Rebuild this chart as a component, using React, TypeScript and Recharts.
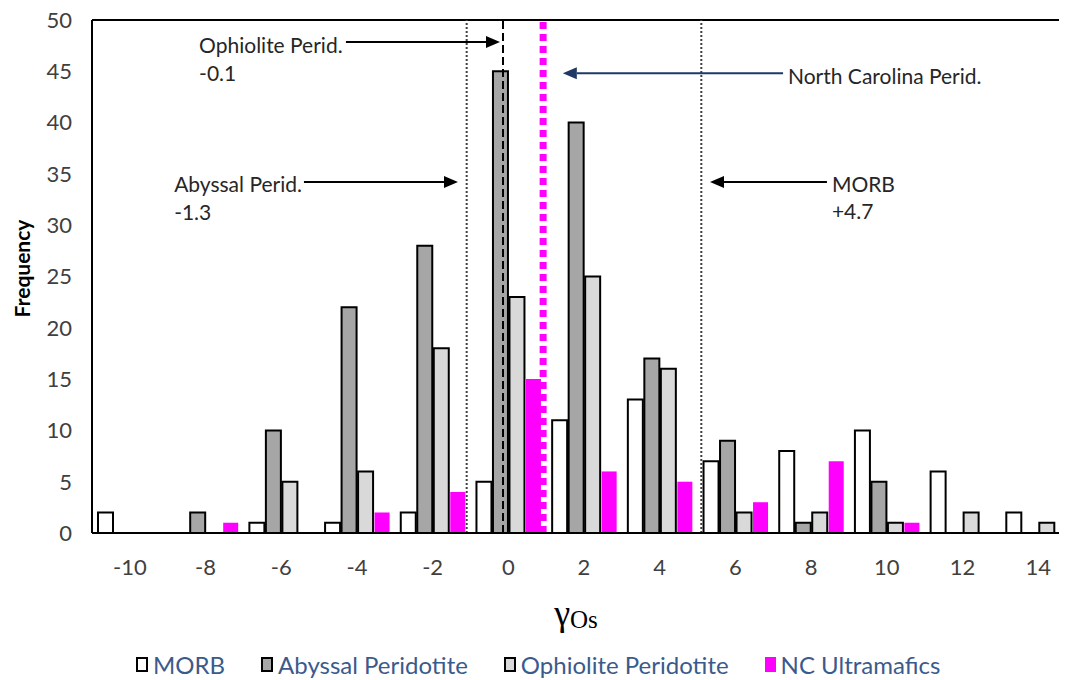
import React from 'react';
import {
  BarChart,
  Bar,
  XAxis,
  YAxis,
  Legend,
  ReferenceLine,
  ReferenceDot,
} from 'recharts';

// gamma-Os bins and frequency counts per group
const gammaBins = [-10, -8, -6, -4, -2, 0, 2, 4, 6, 8, 10, 12, 14];
const morb = [2, 0, 1, 1, 2, 5, 11, 13, 7, 8, 10, 6, 2];
const abyssal = [0, 2, 10, 22, 28, 45, 40, 17, 9, 1, 5, 0, 0];
const ophiolite = [0, 0, 5, 6, 18, 23, 25, 16, 2, 2, 1, 2, 1];
const ncUltramafics = [0, 1, 0, 2, 4, 15, 6, 5, 3, 7, 1, 0, 0];
const yTicks = [0, 5, 10, 15, 20, 25, 30, 35, 40, 45, 50];

const data = gammaBins.map((g, i) => ({
  g,
  morb: morb[i],
  abyssal: abyssal[i],
  ophiolite: ophiolite[i],
  nc: ncUltramafics[i],
}));

const series = [
  { key: 'morb', name: 'MORB', fill: '#ffffff', stroke: '#000' },
  { key: 'abyssal', name: 'Abyssal Peridotite', fill: '#a6a6a6', stroke: '#000' },
  { key: 'ophiolite', name: 'Ophiolite Peridotite', fill: '#d9d9d9', stroke: '#000' },
  { key: 'nc', name: 'NC Ultramafics', fill: '#ff00ff', stroke: 'none' },
];

// vertical marker lines, as drawn in the figure
const markerLines = [
  { x: -1.1, stroke: '#404040', width: 2, dash: '2 2' },
  { x: -0.14, stroke: '#000', width: 2, dash: '8 4' },
  { x: 0.92, stroke: '#ff00ff', width: 7, dash: '7 5' },
  { x: 5.1, stroke: '#404040', width: 2, dash: '2 2' },
];

const arrows = [
  { from: -4.29, to: -0.22, y: 47.86, color: '#000' },
  { from: -5.4, to: -1.33, y: 34.2, color: '#000' },
  { from: 7.26, to: 1.44, y: 44.8, color: '#1f3864' },
  { from: 8.42, to: 5.33, y: 34.2, color: '#000' },
];

const notes = [
  { x: -8.17, y: 47.66, text: 'Ophiolite Perid.' },
  { x: -8.17, y: 44.93, text: '-0.1' },
  { x: -8.83, y: 34.1, text: 'Abyssal Perid.' },
  { x: -8.83, y: 31.3, text: '-1.3' },
  { x: 7.39, y: 44.6, text: 'North Carolina Perid.' },
  { x: 8.55, y: 34.1, text: 'MORB' },
  { x: 8.55, y: 31.4, text: '+4.7' },
];

const font = 'Lato, "Open Sans", sans-serif';

const arrowShape = (color: string) => (props: any) => {
  const { x1, y1, x2, y2 } = props;
  const dir = x2 > x1 ? 1 : -1;
  const head = 14;
  const half = 6;
  return (
    <g>
      <line x1={x1} y1={y1} x2={x2 - dir * head} y2={y2} stroke={color} strokeWidth={2} />
      <polygon
        points={`${x2},${y2} ${x2 - dir * head},${y2 - half} ${x2 - dir * head},${y2 + half}`}
        fill={color}
      />
    </g>
  );
};

const noteShape = (text: string) => (props: any) => (
  <text
    x={props.cx}
    y={props.cy}
    dominantBaseline="central"
    fontFamily={font}
    fontSize={21}
    fill="#262626"
  >
    {text}
  </text>
);

const renderLegend = () => (
  <div
    style={{
      height: 40,
      display: 'flex',
      alignItems: 'center',
      paddingLeft: 128,
      gap: 36,
      fontFamily: font,
      fontSize: 24,
      color: '#3b5a8c',
      boxSizing: 'border-box',
      paddingTop: 8,
    }}
  >
    {series.map((s) => (
      <div key={s.key} style={{ display: 'flex', alignItems: 'center' }}>
        <span
          style={{
            display: 'inline-block',
            width: s.stroke === 'none' ? 11 : 8,
            height: s.stroke === 'none' ? 15 : 11,
            background: s.fill,
            border: s.stroke === 'none' ? 'none' : '2px solid #000',
            marginRight: 5,
          }}
        />
        <span>{s.name}</span>
      </div>
    ))}
  </div>
);

const App: React.FC = () => {
  return (
    <div style={{ width: 1059, height: 672, overflow: 'hidden' }}>
      <BarChart
        width={1090}
        height={672}
        data={data}
        margin={{ top: 12, right: 22, left: 0, bottom: 0 }}
        barSize={15}
        barGap={1.5}
        style={{ fontFamily: font }}
      >
        <XAxis
          dataKey="g"
          type="number"
          domain={[-11, 15]}
          ticks={gammaBins}
          interval={0}
          height={107}
          tickLine={false}
          tickMargin={20}
          axisLine={{ stroke: '#000', strokeWidth: 2 }}
          tick={{ fontSize: 22, fill: '#404040', fontFamily: font }}
          label={{
            content: (p: any) => {
              const vb = p.viewBox;
              return (
                <text
                  x={vb.x + vb.width / 2 - 8}
                  y={vb.y + 92}
                  textAnchor="middle"
                  fontFamily='"Liberation Serif", "Times New Roman", serif'
                  fontSize={36}
                  fill="#000"
                >
                  γ<tspan fontSize={25} dy={3}>Os</tspan>
                </text>
              );
            },
          }}
        />
        <YAxis
          width={84}
          domain={[0, 50]}
          ticks={yTicks}
          interval={0}
          tickLine={false}
          tickMargin={14}
          axisLine={{ stroke: '#000', strokeWidth: 2 }}
          tick={{ fontSize: 22, fill: '#404040', fontFamily: font }}
          label={{
            content: (p: any) => {
              const vb = p.viewBox;
              const cx = 13;
              const cy = vb.y + vb.height / 2 - 8;
              return (
                <text
                  x={cx}
                  y={cy}
                  transform={`rotate(-90 ${cx} ${cy})`}
                  textAnchor="middle"
                  dominantBaseline="central"
                  fontFamily={font}
                  fontWeight="bold"
                  fontSize={21}
                  fill="#000"
                >
                  Frequency
                </text>
              );
            },
          }}
        />
        <Legend verticalAlign="bottom" content={renderLegend} wrapperStyle={{ left: 0, width: 1090 }} />
        {series.map((s) => (
          <Bar
            key={s.key}
            dataKey={s.key}
            name={s.name}
            fill={s.fill}
            stroke={s.stroke}
            strokeWidth={s.stroke === 'none' ? 0 : 2}
            isAnimationActive={false}
          />
        ))}
        <ReferenceLine y={50} stroke="#000" strokeWidth={2} />
        {markerLines.map((m, i) => (
          <ReferenceLine
            key={'m' + i}
            x={m.x}
            stroke={m.stroke}
            strokeWidth={m.width}
            strokeDasharray={m.dash}
          />
        ))}
        {arrows.map((a, i) => (
          <ReferenceLine
            key={'a' + i}
            segment={[
              { x: a.from, y: a.y },
              { x: a.to, y: a.y },
            ]}
            shape={arrowShape(a.color)}
          />
        ))}
        {notes.map((n, i) => (
          <ReferenceDot key={'n' + i} x={n.x} y={n.y} r={0} shape={noteShape(n.text)} />
        ))}
      </BarChart>
    </div>
  );
};

export default App;
